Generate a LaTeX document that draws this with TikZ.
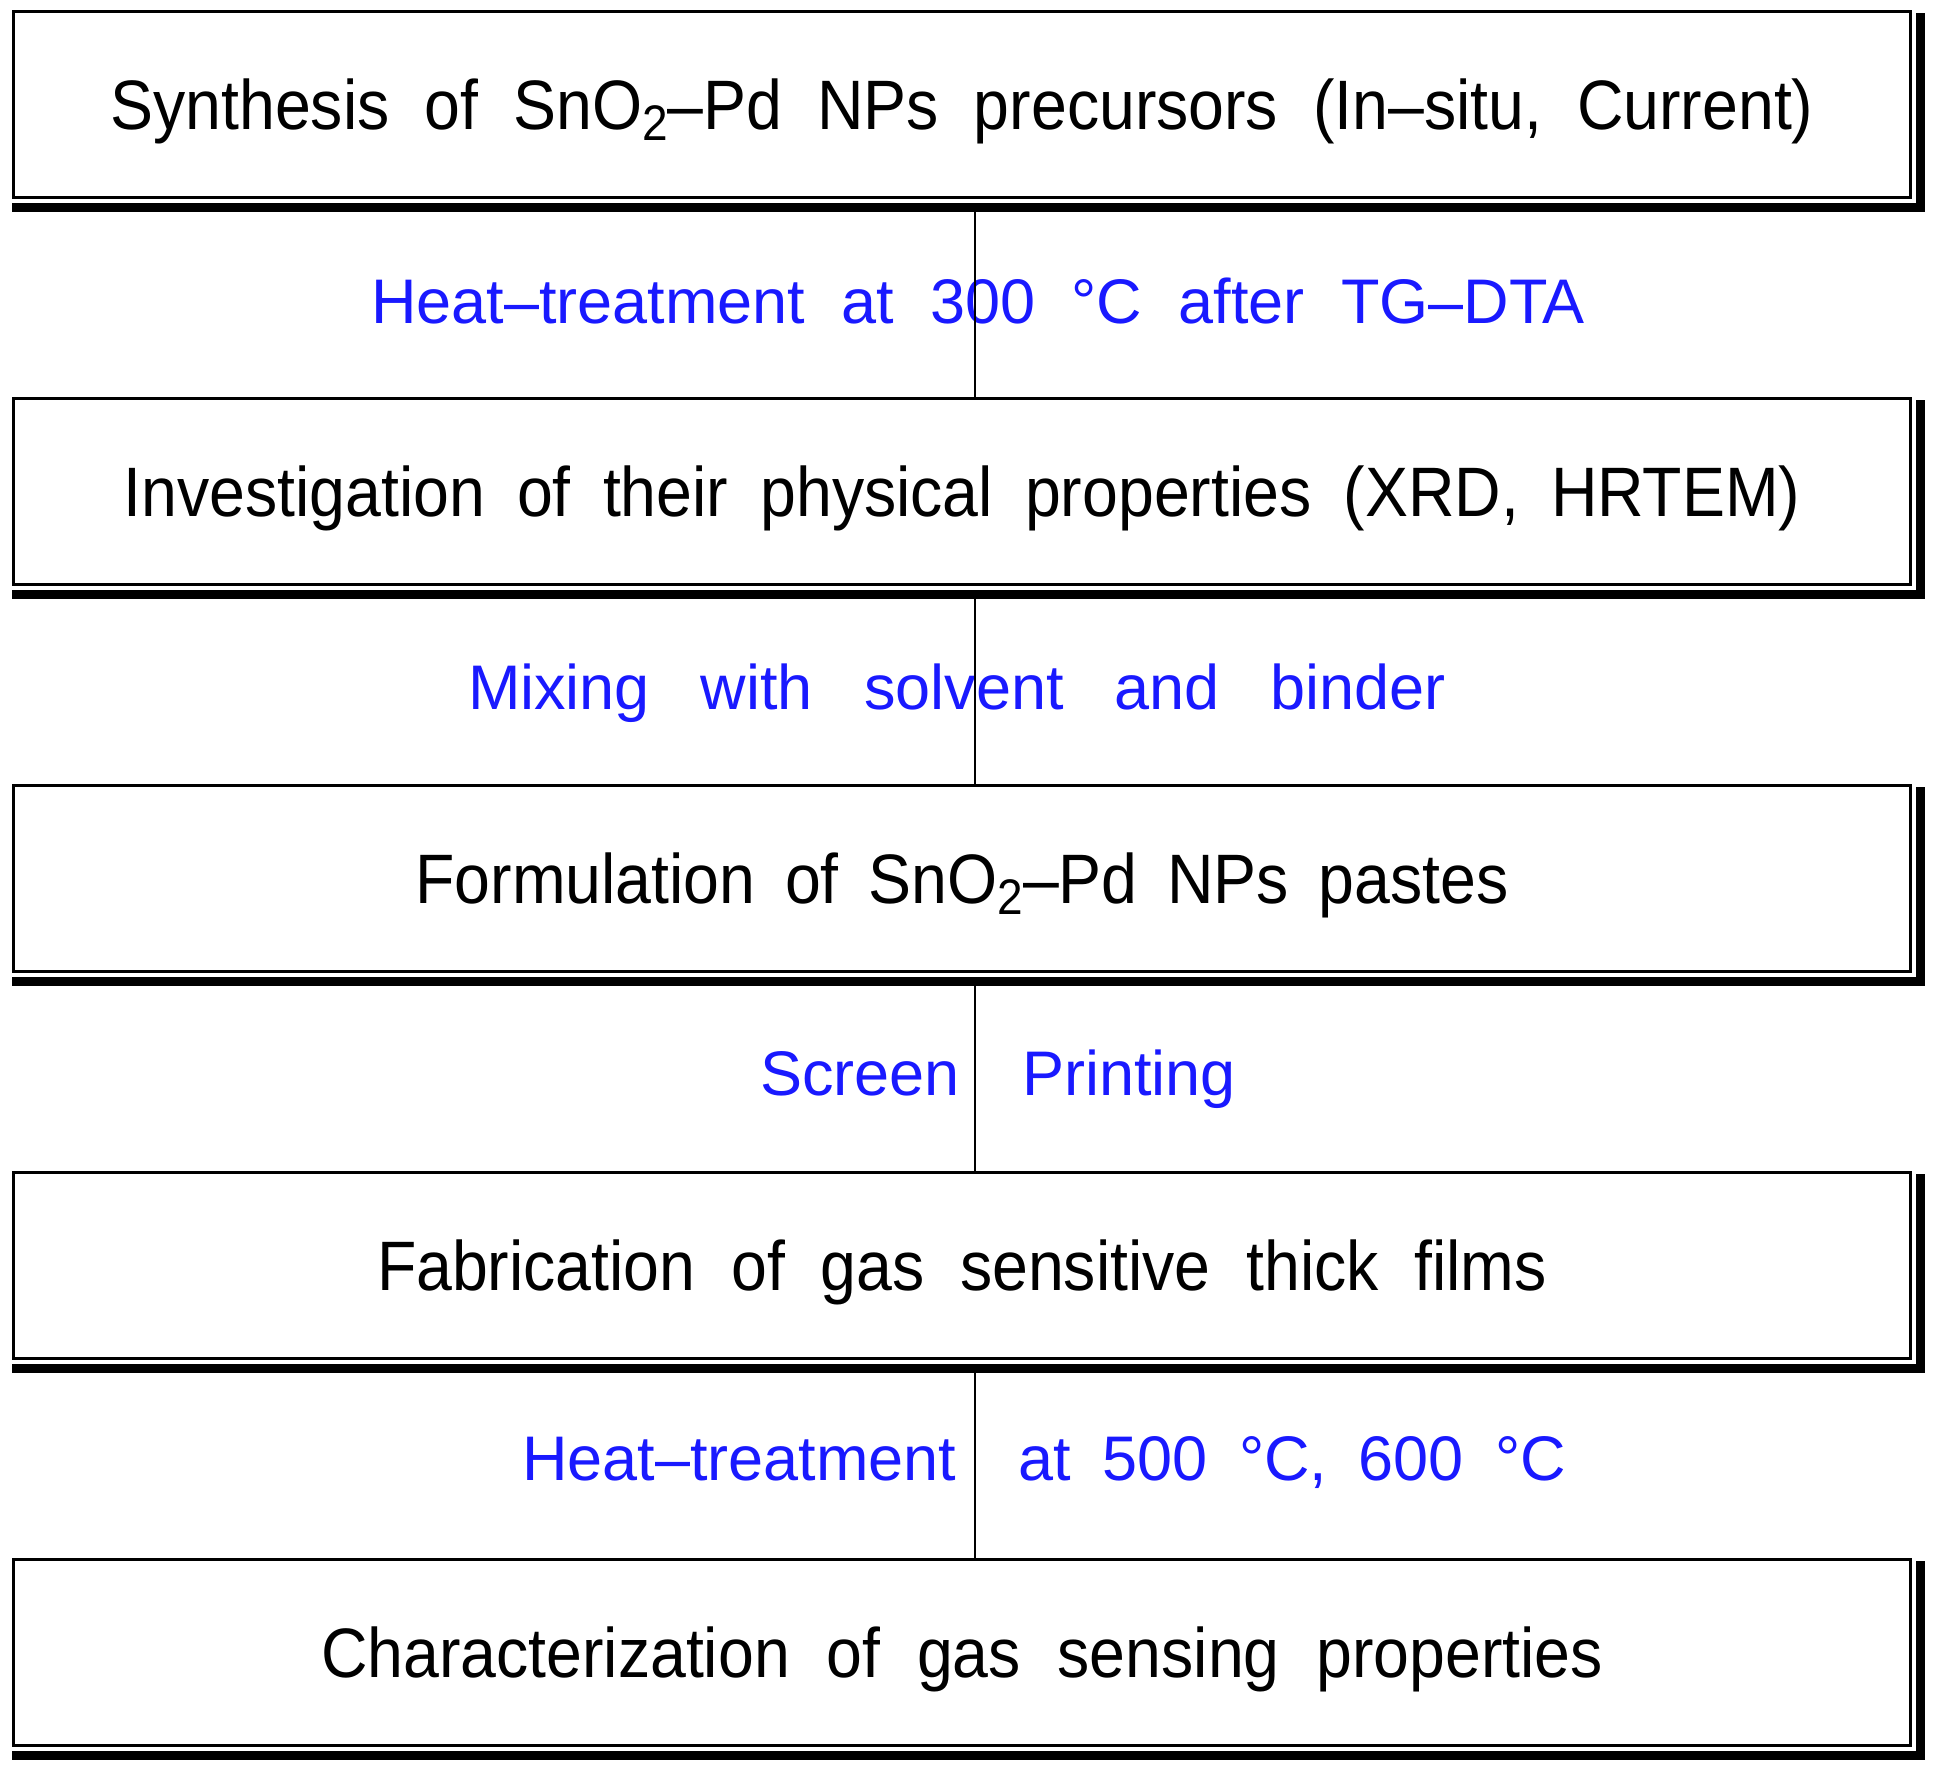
\documentclass[tikz,border=0pt]{standalone}
\usepackage{fontspec}
\setmainfont{Liberation Sans}
\newfontfamily\boxfont[FakeStretch=0.92]{Liberation Sans}
\usetikzlibrary{calc}
\definecolor{lblblue}{RGB}{25,25,255}
\newcommand\subtwo{\raisebox{-11pt}{\fontsize{50}{50}\selectfont 2}}
\tikzset{
  stepbox/.style={draw, line width=3pt, minimum width=1897pt, minimum height=186pt,
    inner sep=0pt, outer sep=0pt, text height=49pt, text depth=0pt,
    font=\boxfont\fontsize{70}{84}\selectfont},
  lbl/.style={anchor=base west, inner sep=0pt, outer sep=0pt, text=lblblue,
    font=\fontsize{63}{76}\selectfont},
  conn/.style={line width=2.5pt},
  boxshade/.style={fill=black}
}
\begin{document}
\begin{tikzpicture}[x=1pt,y=-1pt]
\useasboundingbox[fill=white] (0,0) rectangle (1941,1778);

\node[stepbox] (b1) at (962,104.5) {\hbox to 1703pt{Synthesis\hfill of\hfill SnO\subtwo–Pd\hfill NPs\hfill precursors\hfill (In–situ,\hfill Current)}};
\node[stepbox] (b2) at (962,491.5) {\hbox to 1677pt{Investigation\hfill of\hfill their\hfill physical\hfill properties\hfill (XRD,\hfill HRTEM)}};
\node[stepbox] (b3) at (962,878.5) {\hbox to 1093pt{Formulation\hfill of\hfill SnO\subtwo–Pd\hfill NPs\hfill pastes}};
\node[stepbox] (b4) at (962,1265.5) {\hbox to 1170pt{Fabrication\hfill of\hfill gas\hfill sensitive\hfill thick\hfill films}};
\node[stepbox] (b5) at (962,1652.5) {\hbox to 1282pt{Characterization\hfill of\hfill gas\hfill sensing\hfill properties}};

\foreach \b in {b1,b2,b3,b4,b5}{
  \fill[boxshade] ($(\b.south west)+(-1.5,5.5)$) rectangle ($(\b.south east)+(14.5,14.5)$);
  \fill[boxshade] ($(\b.north east)+(5.5,1.5)$) rectangle ($(\b.south east)+(14.5,14.5)$);
}

\node[lbl] (l1) at (371,323) {\hbox to 1214pt{Heat–treatment\hfill at\hfill 300\hfill °C\hfill after\hfill TG–DTA}};
\node[lbl] (l2) at (468,709) {\hbox to 978pt{Mixing\hfill with\hfill solvent\hfill and\hfill binder}};
\node[lbl] (l3) at (760,1095) {\hbox to 476pt{Screen\hfill Printing}};
\node[lbl] (l4) at (522,1480) {\hbox to 1044pt{Heat–treatment\hfill\hfill at\hfill 500\hfill °C,\hfill 600\hfill °C}};

\draw[conn] ($(b1.south)+(13,14.5)$) -- ($(b2.north)+(13,0)$);
\draw[conn] ($(b2.south)+(13,14.5)$) -- ($(b3.north)+(13,0)$);
\draw[conn] ($(b3.south)+(13,14.5)$) -- ($(b4.north)+(13,0)$);
\draw[conn] ($(b4.south)+(13,14.5)$) -- ($(b5.north)+(13,0)$);
\end{tikzpicture}
\end{document}
